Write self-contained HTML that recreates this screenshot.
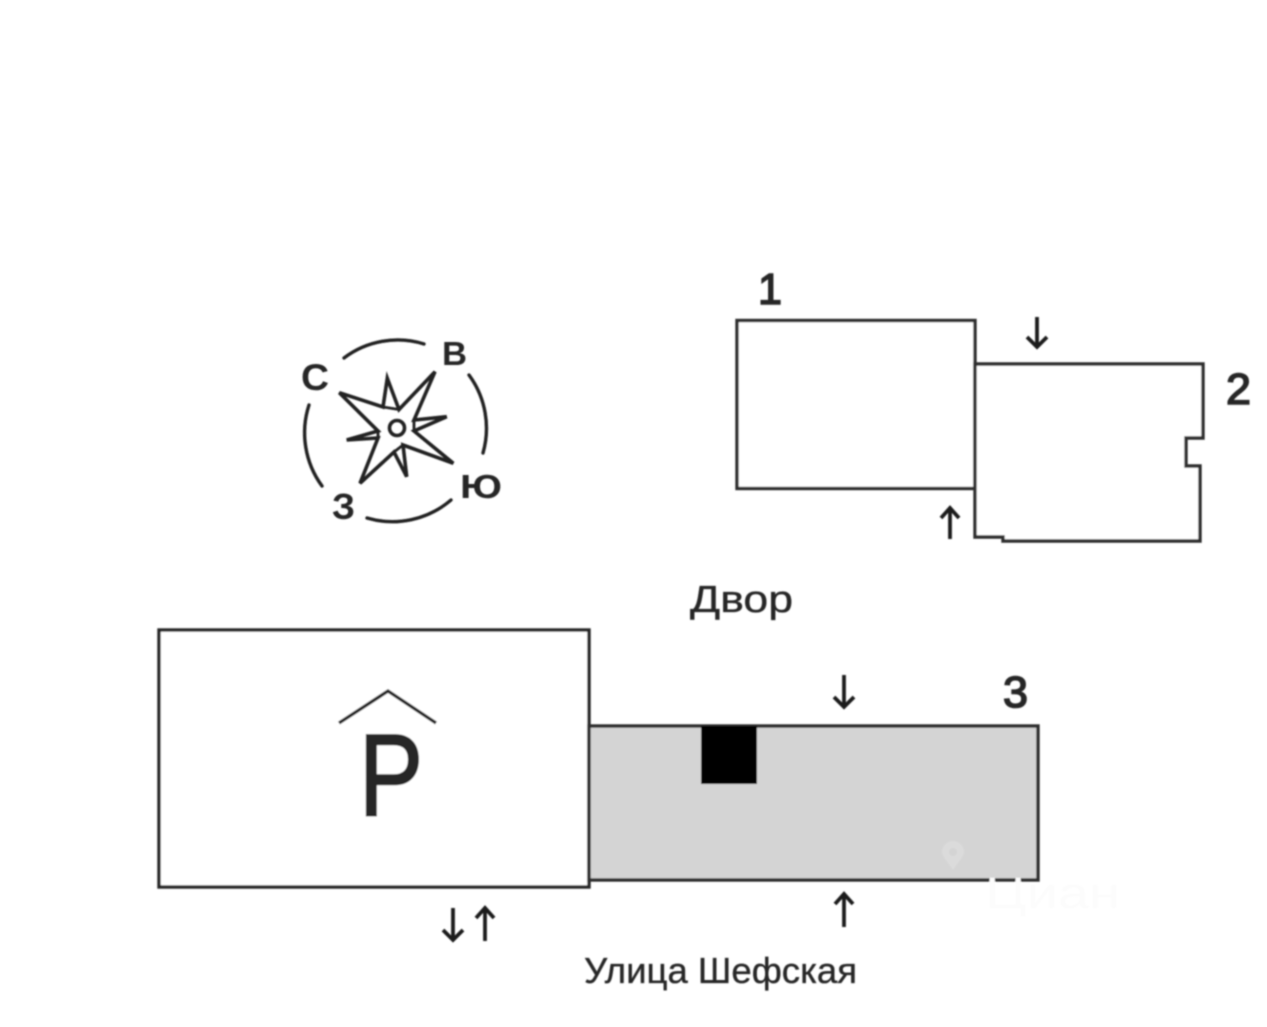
<!DOCTYPE html>
<html lang="ru">
<head>
<meta charset="utf-8">
<title>Схема</title>
<style>
html,body{margin:0;padding:0;background:#fff;width:1267px;height:1027px;overflow:hidden}
svg{display:block}
text{font-family:"Liberation Sans",sans-serif;fill:#262626}
.b{font-weight:bold}
.m{stroke:#262626;stroke-width:0.35px}
.d{stroke:#262626;stroke-width:1.6px}
</style>
</head>
<body>
<svg width="1267" height="1027" viewBox="0 0 1267 1027" xmlns="http://www.w3.org/2000/svg">
<defs>
<filter id="s" x="-5%" y="-5%" width="110%" height="110%"><feGaussianBlur stdDeviation="0.8"/></filter>
</defs>
<rect width="1267" height="1027" fill="#fff"/>
<g filter="url(#s)">
  <!-- Compass -->
  <g fill="none" stroke="#222" stroke-width="3.4" stroke-linecap="round" stroke-linejoin="miter">
    <path d="M344 358A89 89 0 0 1 424 344"/>
    <path d="M469 375A90 90 0 0 1 483 453"/>
    <path d="M451 500A90 90 0 0 1 367 518"/>
    <path d="M322 486A90 90 0 0 1 309 405"/>
    <path stroke-width="3.6" d="M339.300 392.700L383 407L387.300 378.300L399 409.500L435 371.700L414 420L446.700 416.700L414 431L453.300 463.300L403 445L406.700 476.700L394 452L360 483.300L378 438L346.700 440L378 431Z"/>
    <path stroke-width="2.800" d="M383 407L399 409.500M414 420L414 431M403 445L394 452M378 438L378 431"/>
    <circle cx="397" cy="428" r="7.500" stroke-width="3.600"/>
  </g>
  <text class="b" x="301" y="390" font-size="37" textLength="28" lengthAdjust="spacingAndGlyphs">С</text>
  <text class="b" x="442" y="365" font-size="33" textLength="25" lengthAdjust="spacingAndGlyphs">В</text>
  <text class="b" x="460" y="498" font-size="33" textLength="42" lengthAdjust="spacingAndGlyphs">Ю</text>
  <text class="b" x="332" y="519" font-size="36" textLength="23" lengthAdjust="spacingAndGlyphs">З</text>

  <!-- Building 1 & 2 -->
  <rect x="737" y="320.500" width="238" height="168" fill="#fff" stroke="#2e2e2e" stroke-width="3.400"/>
  <path d="M975 364H1203V438H1186V466H1200V541H1003V537H975Z" fill="#fff" stroke="#2e2e2e" stroke-width="3.400"/>
  <text class="d" x="758" y="304" font-size="44" textLength="24" lengthAdjust="spacingAndGlyphs">1</text>
  <text class="d" x="1226" y="404" font-size="44" textLength="25" lengthAdjust="spacingAndGlyphs">2</text>

  <!-- Yard label -->
  <text class="m" x="690" y="612" font-size="38" textLength="103" lengthAdjust="spacingAndGlyphs">Двор</text>

  <!-- Parking -->
  <rect x="159" y="630" width="430" height="257" fill="#fff" stroke="#262626" stroke-width="3.400"/>
  <path d="M339 723L388 691L436 723" fill="none" stroke="#262626" stroke-width="3.400"/>
  <text x="359" y="815" font-size="116" textLength="64" lengthAdjust="spacingAndGlyphs" style="stroke:#262626;stroke-width:2.4px">P</text>

  <!-- Building 3 -->
  <rect x="589" y="726" width="449" height="154" fill="#d4d4d4" stroke="#2e2e2e" stroke-width="3.400"/>
  <rect x="701" y="726" width="56" height="58" fill="#000"/>
  <text class="d" x="1003" y="707" font-size="44" textLength="25" lengthAdjust="spacingAndGlyphs">3</text>

  <!-- Arrows -->
  <g fill="none" stroke="#1e1e1e" stroke-width="3.800">
    <path d="M1037 317V347M1027 337L1037 347L1047 337"/>
    <path d="M950 539V508M941 518L950 508L959 518"/>
    <path d="M844 675V707M834 697L844 707L854 697"/>
    <path d="M844 927V894M835 904L844 894L853 904"/>
    <path d="M453 908V940M443 930L453 940L463 930"/>
    <path d="M485 941V908M476 918L485 908L494 918"/>
  </g>

  <!-- Street label -->
  <text class="m" x="584" y="983" font-size="36" textLength="273" lengthAdjust="spacingAndGlyphs">Улица Шефская</text>

  <!-- Watermark -->
  <path d="M953 870C947 861 942 856 942 852A11 11 0 0 1 964 852C964 856 959 861 953 870Z" fill="#dbdbdb"/>
  <circle cx="953" cy="852" r="4" fill="#d4d4d4"/>
  <text x="985" y="908" font-size="44" style="fill:#fcfcfc" textLength="135" lengthAdjust="spacingAndGlyphs">Циан</text>
</g>
</svg>
</body>
</html>
